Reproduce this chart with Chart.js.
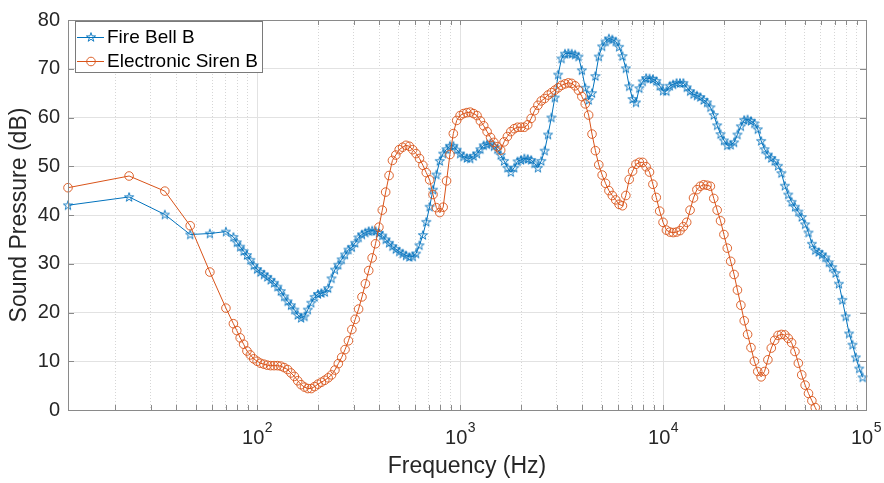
<!DOCTYPE html>
<html>
<head>
<meta charset="utf-8">
<title>Sound pressure spectrum</title>
<script src="https://cdn.jsdelivr.net/npm/chart.js@4.4.1/dist/chart.umd.min.js"></script>
<style>
  html, body { margin: 0; padding: 0; background: #fff; }
  canvas { display: block; }
</style>
</head>
<body>
<canvas id="spectrum" width="884" height="483"></canvas>
<script>
// Frequency points (Hz): FFT bins at the bottom end, then 60 points per decade
const freqHz = [
  11.7, 23.4, 35.1, 46.8, 58.5, 70.2,
  76.4, 79.4, 82.5, 85.8, 89.1, 92.6, 96.2,
  100, 103.9, 108, 112.2, 116.6, 121.2, 125.9, 130.8, 135.9, 141.3,
  146.8, 152.6, 158.5, 164.7, 171.1, 177.8, 184.8, 192, 199.5, 207.3,
  215.4, 223.9, 232.6, 241.8, 251.2, 261, 271.2, 281.8, 292.9, 304.3,
  316.2, 328.6, 341.5, 354.8, 368.7, 383.1, 398.1, 413.7, 429.9, 446.7,
  464.2, 482.3, 501.2, 520.8, 541.2, 562.3, 584.3, 607.2, 631, 655.7,
  681.3, 708, 735.6, 764.4, 794.3, 825.4, 857.7, 891.3, 926.1, 962.4,
  1000, 1039, 1080, 1122, 1166, 1212, 1259, 1308, 1359, 1413,
  1468, 1526, 1585, 1647, 1711, 1778, 1848, 1920, 1995, 2073,
  2154, 2239, 2326, 2418, 2512, 2610, 2712, 2818, 2929, 3043,
  3162, 3286, 3415, 3548, 3687, 3831, 3981, 4137, 4299, 4467,
  4642, 4823, 5012, 5208, 5412, 5623, 5843, 6072, 6310, 6557,
  6813, 7080, 7356, 7644, 7943, 8254, 8577, 8913, 9261, 9624,
  10000, 10390, 10800, 11220, 11660, 12120, 12590, 13080, 13590, 14130,
  14680, 15260, 15850, 16470, 17110, 17780, 18480, 19200, 19950, 20730,
  21540, 22390, 23260, 24180, 25120, 26100, 27120, 28180, 29290, 30430,
  31620, 32860, 34150, 35480, 36870, 38310, 39810, 41370, 42990, 44670,
  46420, 48230, 50120, 52080, 54120, 56230, 58430, 60720, 63100, 65570,
  68130, 70800, 73560, 76440, 79430, 82540, 85770, 89130, 92610, 96240
];

// Fire Bell B, dB
const fireBellDb = [
  42.0, 43.7, 40.1, 36.0, 36.2, 36.6,
  35.5, 34.4, 33.5, 32.6, 31.8, 30.8, 29.7,
  28.9, 28.3, 27.8, 27.3, 26.7, 26.1, 25.3, 24.4, 23.3, 22.3,
  21.5, 20.6, 19.5, 18.9, 19.2, 20.6, 22.0, 23.2, 23.8, 24.0,
  24.2, 25.0, 27.0, 28.8, 29.8, 30.9, 31.9, 32.9, 33.4, 34.3,
  35.4, 36.0, 36.4, 36.7, 36.8, 36.7, 36.3, 35.8, 35.0, 34.3,
  33.6, 33.0, 32.5, 32.1, 31.7, 31.4, 31.5, 32.1, 33.8, 35.9,
  38.6, 41.7, 45.2, 48.3, 51.1, 52.6, 53.5, 54.2, 54.2, 53.4,
  52.6, 52.0, 51.7, 51.6, 52.1, 52.6, 53.5, 54.3, 54.5, 54.7,
  54.1, 53.5, 52.3, 51.1, 49.7, 48.8, 49.7, 51.0, 51.3, 51.6,
  51.5, 51.3, 50.6, 49.7, 51.1, 53.2, 56.5, 60.0, 64.1, 68.8,
  72.1, 73.1, 73.2, 73.1, 72.9, 72.5, 69.7, 66.1, 63.6, 65.0,
  68.5, 72.5, 74.6, 75.6, 76.2, 76.0, 75.6, 74.5, 72.6, 70.1,
  66.4, 63.8, 63.1, 66.0, 67.4, 68.1, 68.0, 67.9, 67.5, 66.5,
  65.5, 65.4, 66.5, 66.8, 67.1, 67.1, 67.1, 66.2, 65.4, 64.8,
  64.5, 64.2, 63.6, 63.1, 62.1, 60.5, 58.4, 56.6, 55.3, 54.3,
  54.4, 54.9, 56.5, 58.2, 59.5, 59.6, 59.3, 58.8, 57.6, 55.2,
  53.5, 52.4, 51.7, 51.1, 50.1, 48.6, 46.0, 44.2, 42.7, 41.7,
  40.7, 39.6, 38.1, 36.4, 34.1, 32.8, 32.4, 31.9, 31.3, 30.3,
  29.3, 28.1, 25.9, 22.6, 19.2, 15.7, 13.4, 10.8, 8.5, 6.7
];

// Electronic Siren B, dB (runs below the axis past ~57 kHz)
const sirenDb = [
  45.6, 48.0, 44.9, 37.8, 28.3, 20.9,
  17.7, 16.3, 14.8, 13.5, 12.1, 11.3, 10.5,
  10.0, 9.6, 9.4, 9.2, 9.1, 9.1, 9.1, 9.0, 8.7, 8.3,
  7.6, 6.9, 6.0, 5.2, 4.7, 4.4, 4.4, 4.8, 5.3, 5.7,
  6.1, 6.6, 7.2, 8.2, 9.5, 10.8, 12.4, 14.2, 16.5, 18.6,
  20.7, 23.2, 25.9, 28.6, 31.2, 34.1, 37.5, 41.0, 44.7, 48.1,
  51.2, 52.3, 53.4, 53.9, 54.3, 54.1, 53.4, 52.6, 51.6, 50.2,
  48.7, 47.2, 44.2, 41.5, 40.5, 41.6, 47.0, 52.4, 56.7, 59.4,
  60.4, 60.8, 61.0, 61.1, 60.8, 60.4, 59.3, 58.3, 57.1, 55.9,
  54.9, 54.0, 53.3, 55.0, 56.1, 57.1, 57.7, 58.0, 58.0, 58.0,
  58.5, 59.8, 61.4, 62.5, 63.4, 63.9, 64.6, 65.1, 65.6, 66.1,
  66.6, 66.9, 67.1, 67.0, 66.5, 65.6, 64.3, 62.8, 60.5, 56.6,
  53.2, 50.3, 48.2, 46.5, 45.0, 44.0, 43.1, 42.2, 41.9, 44.0,
  47.3, 49.0, 50.4, 50.8, 50.8, 49.9, 48.8, 46.3, 43.6, 40.8,
  38.5, 36.9, 36.5, 36.4, 36.5, 36.8, 37.6, 38.5, 41.0, 43.5,
  45.2, 45.9, 46.2, 46.1, 45.9, 43.4, 41.0, 38.8, 36.0, 33.2,
  30.5, 27.8, 24.6, 21.5, 18.3, 15.5, 12.8, 10.0, 7.9, 6.8,
  7.9, 10.3, 12.7, 14.3, 15.3, 15.5, 15.4, 14.7, 13.8, 12.0,
  9.6, 7.2, 5.1, 3.4, 1.9, 0.5, -1.0, -3.0
];

const xTickValues = [
  20, 30, 40, 50, 60, 70, 80, 90,
  100, 200, 300, 400, 500, 600, 700, 800, 900,
  1000, 2000, 3000, 4000, 5000, 6000, 7000, 8000, 9000,
  10000, 20000, 30000, 40000, 50000, 60000, 70000, 80000, 90000,
  100000
];
const xDecades = [100, 1000, 10000, 100000];
const yTickValues = [0, 10, 20, 30, 40, 50, 60, 70, 80];

const seriesNames = ['Fire Bell B', 'Electronic Siren B'];
const blue = '#0072BD';
const orange = '#D95319';
const fontFamily = "'Liberation Sans', Arial, Helvetica, sans-serif";
const textColor = '#262626';
const axisColor = '#8a8a8a';

function isDecade(v) {
  const l = Math.log10(v);
  return Math.abs(l - Math.round(l)) < 1e-9;
}

// outlined five-pointed star marker
function makeStar(color) {
  const c = document.createElement('canvas');
  c.width = 12;
  c.height = 12;
  const g = c.getContext('2d');
  g.strokeStyle = color;
  g.lineWidth = 0.9;
  g.beginPath();
  for (let i = 0; i < 10; i++) {
    const r = i % 2 ? 1.85 : 4.8;
    const a = -Math.PI / 2 + i * Math.PI / 5;
    const px = 6 + r * Math.cos(a);
    const py = 6.4 + r * Math.sin(a);
    if (i === 0) g.moveTo(px, py); else g.lineTo(px, py);
  }
  g.closePath();
  g.stroke();
  return c;
}
const starMarker = makeStar(blue);

function toPoints(values) {
  return values.map((v, i) => ({ x: freqHz[i], y: v }));
}

// box, inward tick marks, 10^n labels and legend
const framePlugin = {
  id: 'frame',
  afterDatasetsDraw(chart) {
    const { ctx, chartArea: a, scales: { x, y } } = chart;
    ctx.save();
    ctx.strokeStyle = axisColor;
    ctx.lineWidth = 1;
    ctx.beginPath();
    xTickValues.forEach(v => {
      const px = Math.round(x.getPixelForValue(v)) + 0.5;
      ctx.moveTo(px, a.bottom); ctx.lineTo(px, a.bottom - 5);
      ctx.moveTo(px, a.top); ctx.lineTo(px, a.top + 5);
    });
    yTickValues.forEach(v => {
      const py = Math.round(y.getPixelForValue(v)) + 0.5;
      ctx.moveTo(a.left, py); ctx.lineTo(a.left + 6, py);
      ctx.moveTo(a.right, py); ctx.lineTo(a.right - 6, py);
    });
    ctx.stroke();
    ctx.strokeRect(Math.round(a.left) + 0.5, Math.round(a.top) + 0.5,
      Math.round(a.right - a.left), Math.round(a.bottom - a.top));

    // decade labels with superscript exponent
    ctx.fillStyle = textColor;
    ctx.textBaseline = 'middle';
    ctx.textAlign = 'left';
    xDecades.forEach(v => {
      const px = x.getPixelForValue(v);
      const exp = String(Math.round(Math.log10(v)));
      ctx.font = '20px ' + fontFamily;
      const wBase = ctx.measureText('10').width;
      ctx.font = '14px ' + fontFamily;
      const wExp = ctx.measureText(exp).width;
      const left = px - (wBase + wExp) / 2;
      ctx.font = '20px ' + fontFamily;
      ctx.fillText('10', left, a.bottom + 28);
      ctx.font = '14px ' + fontFamily;
      ctx.fillText(exp, left + wBase + 0.5, a.bottom + 18);
    });

    // legend
    const lx = 75.5, ly = 21.5, lw = 187, lh = 51;
    ctx.fillStyle = '#ffffff';
    ctx.fillRect(lx, ly, lw, lh);
    ctx.strokeStyle = '#7a7a7a';
    ctx.strokeRect(lx, ly, lw, lh);
    const rows = [
      { name: seriesNames[0], color: blue, yc: 37 },
      { name: seriesNames[1], color: orange, yc: 61 }
    ];
    rows.forEach((r, i) => {
      ctx.strokeStyle = r.color;
      ctx.lineWidth = 1;
      ctx.beginPath();
      ctx.moveTo(77, r.yc + 0.5);
      ctx.lineTo(104, r.yc + 0.5);
      ctx.stroke();
      if (i === 0) {
        ctx.drawImage(starMarker, 91 - 6, r.yc - 6);
      } else {
        ctx.lineWidth = 0.9;
        ctx.beginPath();
        ctx.arc(91, r.yc + 0.5, 4.3, 0, Math.PI * 2);
        ctx.stroke();
      }
      ctx.fillStyle = '#000000';
      ctx.font = '19px ' + fontFamily;
      ctx.textAlign = 'left';
      ctx.textBaseline = 'middle';
      ctx.fillText(r.name, 107, r.yc + 1);
    });
    ctx.restore();
  }
};

Chart.defaults.font.family = fontFamily;
Chart.defaults.color = textColor;

new Chart(document.getElementById('spectrum'), {
  type: 'line',
  data: {
    datasets: [
      {
        label: seriesNames[0],
        data: toPoints(fireBellDb),
        borderColor: blue,
        borderWidth: 1,
        pointStyle: starMarker,
        pointRadius: 4,
        pointBorderColor: blue,
        pointBackgroundColor: 'rgba(0,0,0,0)',
        tension: 0,
        order: 1,
        clip: { left: 8, right: 8, top: 0, bottom: 0 }
      },
      {
        label: seriesNames[1],
        data: toPoints(sirenDb),
        borderColor: orange,
        borderWidth: 1,
        pointStyle: 'circle',
        pointRadius: 4.3,
        pointBorderWidth: 0.9,
        pointBorderColor: orange,
        pointBackgroundColor: 'rgba(0,0,0,0)',
        tension: 0,
        order: 0,
        clip: { left: 8, right: 8, top: 0, bottom: 0 }
      }
    ]
  },
  options: {
    responsive: false,
    animation: false,
    devicePixelRatio: 1,
    layout: { padding: { left: 0, right: 18, top: 15, bottom: 0 } },
    plugins: {
      legend: { display: false },
      tooltip: { enabled: false }
    },
    scales: {
      x: {
        type: 'logarithmic',
        min: 11.7,
        max: 100000,
        afterBuildTicks: s => { s.ticks = xTickValues.map(v => ({ value: v })); },
        afterFit: s => { s.height = 73; },
        ticks: { display: false },
        grid: {
          drawTicks: false,
          color: c => (c.tick && isDecade(c.tick.value)) ? '#e2e2e2' : '#d6d6d6',
          lineWidth: 1
        },
        border: {
          display: false,
          dash: c => (c.tick && isDecade(c.tick.value)) ? [] : [1, 2]
        },
        title: {
          display: true,
          text: 'Frequency (Hz)',
          color: textColor,
          font: { size: 23 },
          padding: { top: 0, bottom: 3 }
        }
      },
      y: {
        min: 0,
        max: 80,
        afterFit: s => { s.width = 68; },
        ticks: {
          stepSize: 10,
          padding: 8,
          color: textColor,
          font: { size: 20 }
        },
        grid: { drawTicks: false, color: '#e2e2e2', lineWidth: 1 },
        border: { display: false },
        title: {
          display: true,
          text: 'Sound Pressure (dB)',
          color: textColor,
          font: { size: 23 },
          padding: { top: 6, bottom: 0 }
        }
      }
    }
  },
  plugins: [framePlugin]
});
</script>
</body>
</html>
